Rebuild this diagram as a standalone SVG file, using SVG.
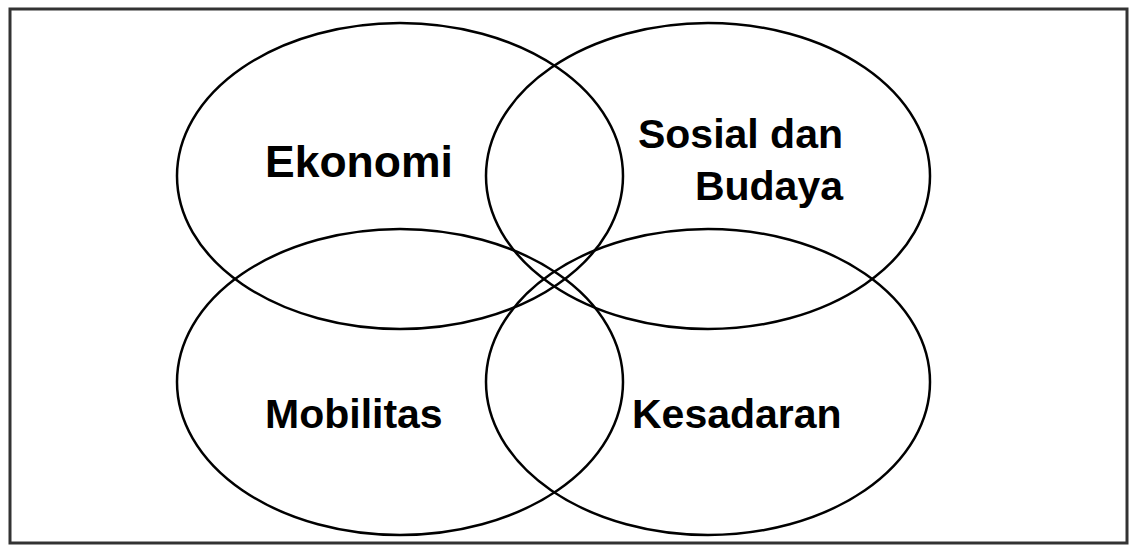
<svg xmlns="http://www.w3.org/2000/svg" width="1136" height="545" viewBox="0 0 1136 545">
<style>
.frame{fill:#fff;stroke:#333;stroke-width:3}
.el{fill:none;stroke:#000;stroke-width:2.5}
.lbl{font-family:"Liberation Sans",Arial,sans-serif;font-weight:bold;font-size:41px;fill:#000}
.big{font-size:44.5px}
</style>
<rect class="frame" x="10" y="9" width="1117" height="534"/>
<g id="ekonomi">
<ellipse class="el" cx="400" cy="176" rx="223" ry="153"/>
<text class="lbl big" x="265" y="177">Ekonomi</text>
</g>
<g id="sosial-budaya">
<ellipse class="el" cx="708" cy="176" rx="222" ry="153"/>
<text class="lbl" x="843" y="148" text-anchor="end">Sosial dan</text>
<text class="lbl" x="843" y="200" text-anchor="end">Budaya</text>
</g>
<g id="mobilitas">
<ellipse class="el" cx="400" cy="382" rx="223" ry="153"/>
<text class="lbl" x="265" y="428">Mobilitas</text>
</g>
<g id="kesadaran">
<ellipse class="el" cx="708" cy="382" rx="222" ry="153"/>
<text class="lbl" x="632" y="428">Kesadaran</text>
</g>
<g id="connectors"/>
</svg>
